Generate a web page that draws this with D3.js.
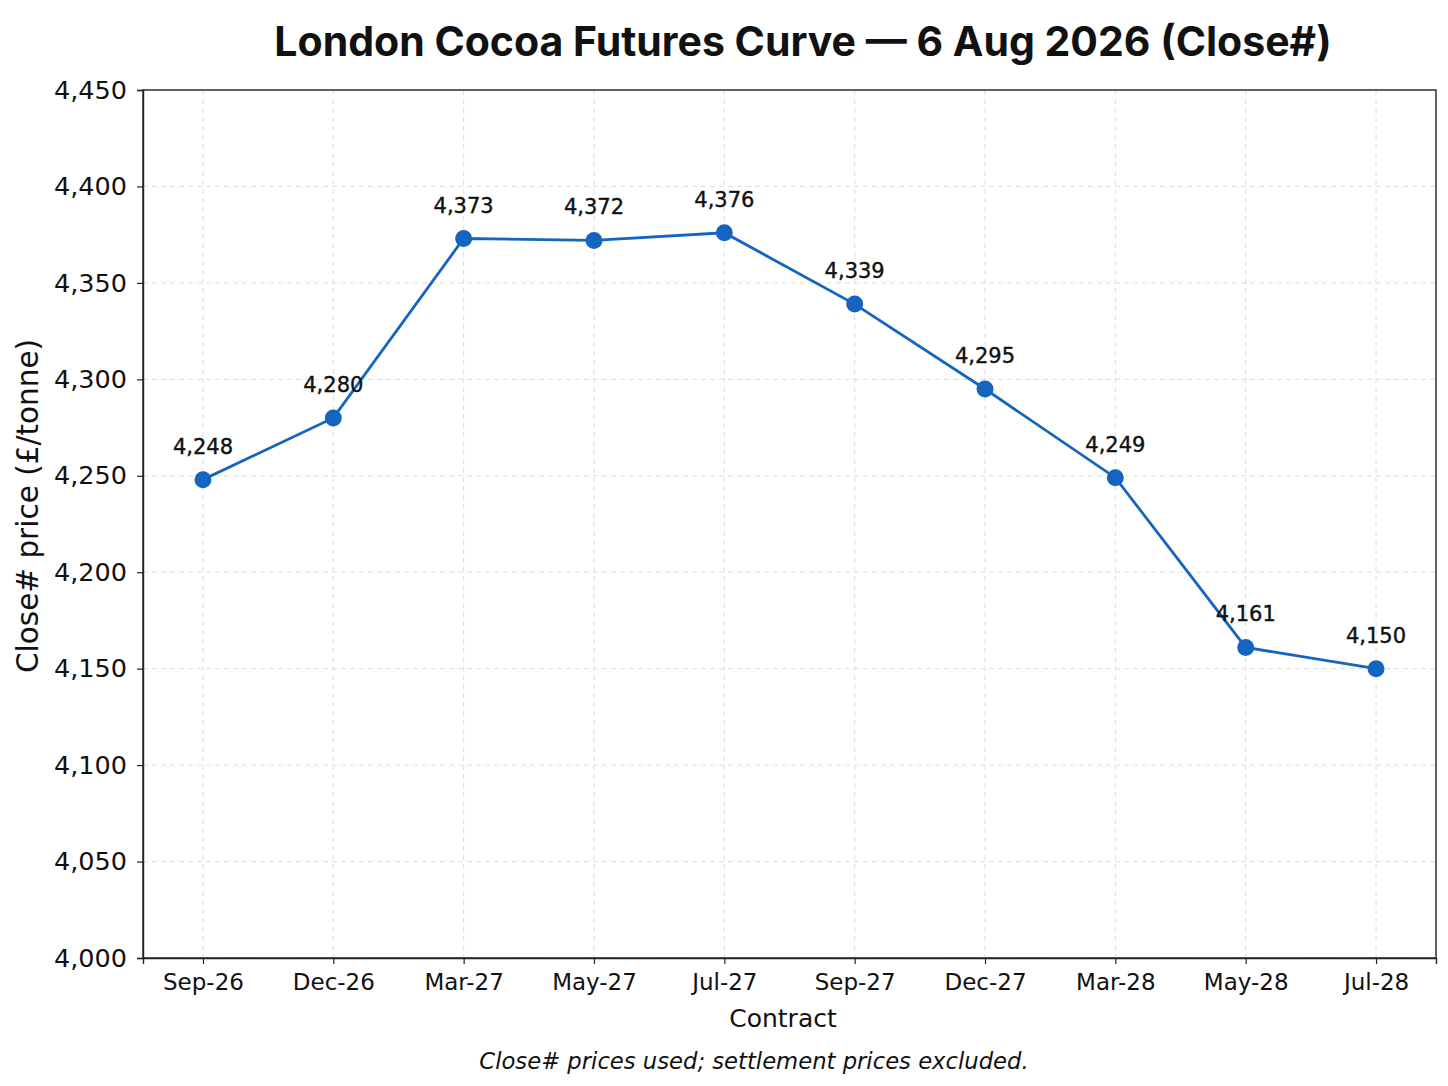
<!DOCTYPE html>
<html>
<head>
<meta charset="utf-8">
<script src="https://cdn.jsdelivr.net/npm/d3@7"></script>
<style>
  body { margin: 0; background: #fff; }
  text { font-family: "DejaVu Sans", sans-serif; fill: #111; }
</style>
</head>
<body>
<div id="chart"></div>
<script>
// contracts and Close# prices
let contracts = ["Sep-26", "Dec-26", "Mar-27", "May-27", "Jul-27", "Sep-27", "Dec-27", "Mar-28", "May-28", "Jul-28"];
let prices = [4248, 4280, 4373, 4372, 4376, 4339, 4295, 4249, 4161, 4150];
let yTicks = [4000, 4050, 4100, 4150, 4200, 4250, 4300, 4350, 4400, 4450];

let width = 1448, height = 1086;
let margin = {top: 90, right: 12, bottom: 128, left: 143};

let svg = d3.select("#chart").append("svg")
    .attr("width", width)
    .attr("height", height);

let x = d3.scaleLinear()
    .domain([-0.46, contracts.length - 1 + 0.46])
    .range([margin.left, width - margin.right]);

let y = d3.scaleLinear()
    .domain([4000, 4450])
    .range([height - margin.bottom, margin.top]);

let fmt = d3.format(",");

// grid
svg.append("g").selectAll("line.gx")
    .data(contracts).enter().append("line")
    .attr("x1", (d, i) => x(i)).attr("x2", (d, i) => x(i))
    .attr("y1", margin.top).attr("y2", height - margin.bottom)
    .attr("stroke", "#ddd").attr("stroke-dasharray", "5,4");

svg.append("g").selectAll("line.gy")
    .data(yTicks).enter().append("line")
    .attr("x1", margin.left).attr("x2", width - margin.right)
    .attr("y1", d => y(d)).attr("y2", d => y(d))
    .attr("stroke", "#ddd").attr("stroke-dasharray", "5,4");

// axes
let xAxis = d3.axisBottom(x)
    .tickValues(d3.range(contracts.length))
    .tickFormat(i => contracts[i])
    .tickSize(6).tickPadding(10);

let yAxis = d3.axisLeft(y)
    .tickValues(yTicks)
    .tickFormat(fmt)
    .tickSize(6).tickPadding(10);

svg.append("g")
    .attr("transform", "translate(0," + (height - margin.bottom) + ")")
    .call(xAxis)
    .call(g => g.selectAll("text").style("font-size", "23px").attr("fill", "#111"));

svg.append("g")
    .attr("transform", "translate(" + margin.left + ",0)")
    .call(yAxis)
    .call(g => g.selectAll("text").style("font-size", "25.5px").attr("fill", "#111"));

svg.selectAll(".domain").attr("stroke", "#222").attr("stroke-width", 1.4);
svg.selectAll(".tick line").attr("stroke", "#222").attr("stroke-width", 1.2);

// frame
svg.append("rect")
    .attr("x", margin.left).attr("y", margin.top)
    .attr("width", width - margin.right - margin.left)
    .attr("height", height - margin.bottom - margin.top)
    .attr("fill", "none").attr("stroke", "#222").attr("stroke-width", 1.4);

// line
let line = d3.line()
    .x((d, i) => x(i))
    .y(d => y(d));

svg.append("path")
    .datum(prices)
    .attr("d", line)
    .attr("fill", "none")
    .attr("stroke", "#1565c0")
    .attr("stroke-width", 2.8);

svg.selectAll(".dot")
    .data(prices).enter().append("circle")
    .attr("class", "dot")
    .attr("cx", (d, i) => x(i))
    .attr("cy", d => y(d))
    .attr("r", 8.5)
    .attr("fill", "#1565c0");

// value labels
svg.selectAll(".lbl")
    .data(prices).enter().append("text")
    .attr("class", "lbl")
    .attr("x", (d, i) => x(i))
    .attr("y", d => y(d) - 26)
    .attr("text-anchor", "middle")
    .style("font-size", "21px")
    .style("stroke", "#111").style("stroke-width", 0.4)
    .text(d => fmt(d));

// titles
svg.append("text")
    .attr("x", 803).attr("y", 56)
    .attr("text-anchor", "middle")
    .style("font-family", "Inter, Roboto, sans-serif")
    .style("font-size", "41px")
    .style("font-weight", "bold")
    .text("London Cocoa Futures Curve — 6 Aug 2026 (Close#)");

svg.append("text")
    .attr("x", 783).attr("y", 1027)
    .attr("text-anchor", "middle")
    .style("font-size", "25px")
    .text("Contract");

svg.append("text")
    .attr("transform", "translate(38,506) rotate(-90)")
    .attr("text-anchor", "middle")
    .style("font-size", "29.5px")
    .text("Close# price (£/tonne)");

svg.append("text")
    .attr("x", 754).attr("y", 1069)
    .attr("text-anchor", "middle")
    .style("font-size", "22.7px")
    .style("font-style", "italic")
    .text("Close# prices used; settlement prices excluded.");
</script>
</body>
</html>
